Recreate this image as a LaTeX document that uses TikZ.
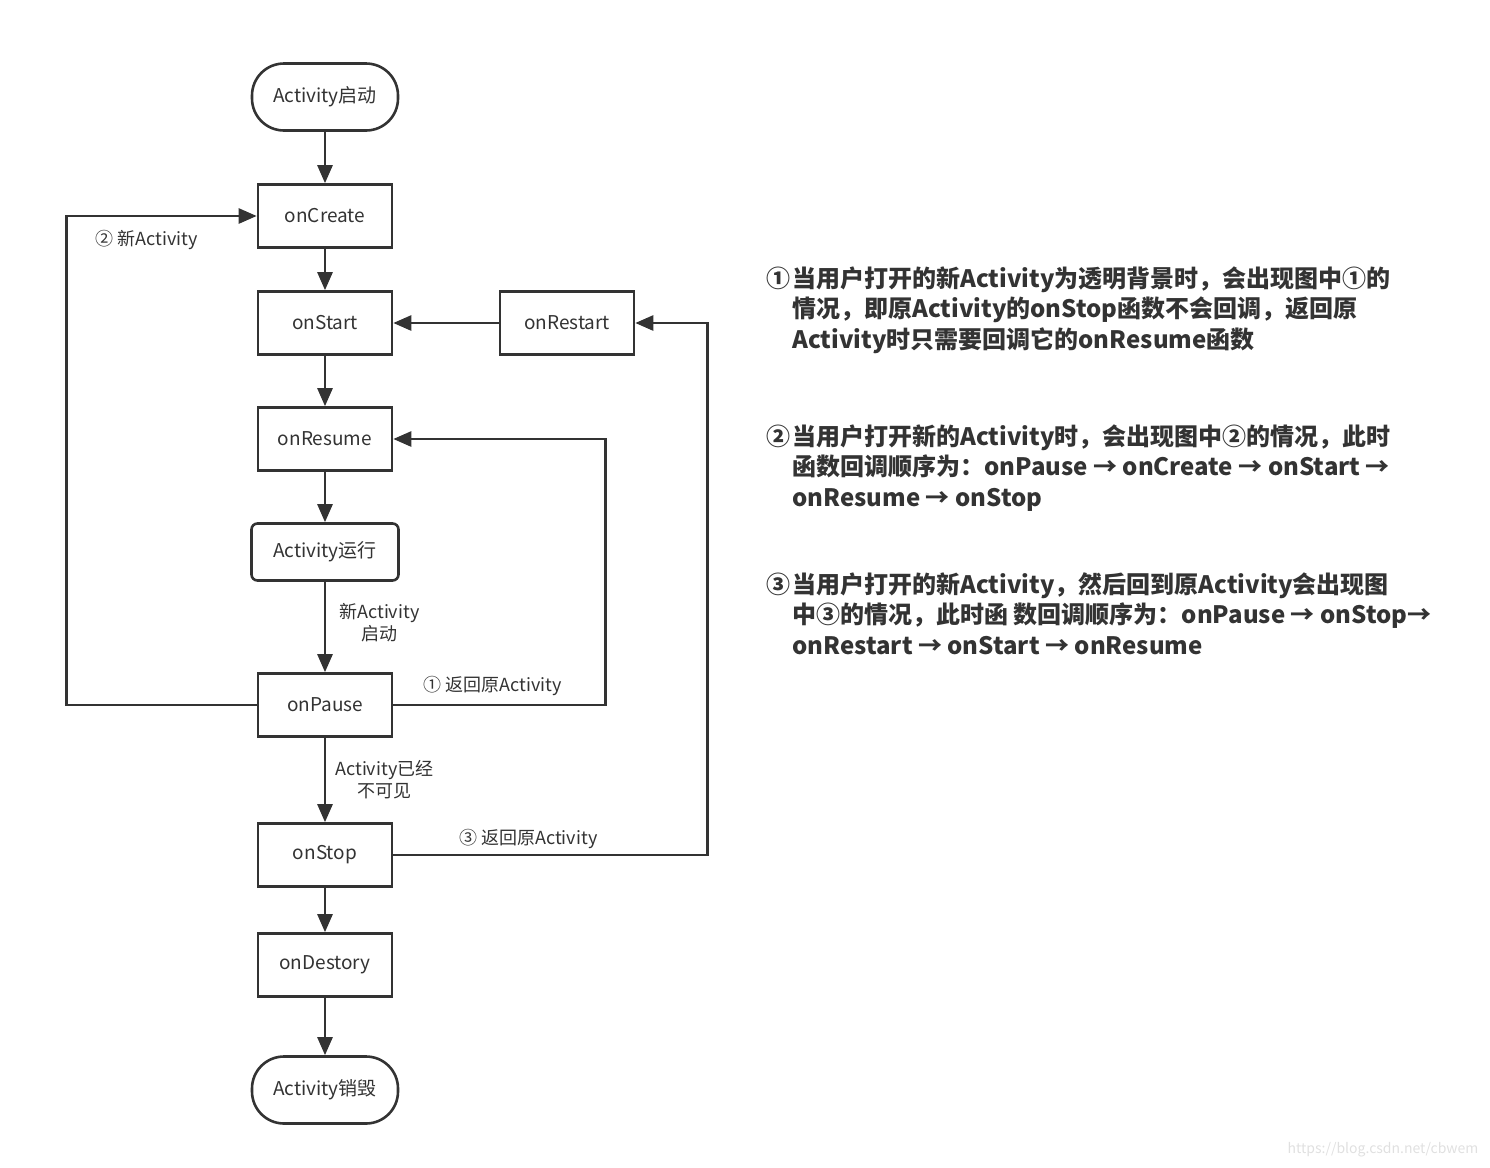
\documentclass[tikz,border=0pt]{standalone}
\usepackage{fontspec}
\setmainfont{Noto Sans CJK SC}
\usepackage{xcolor}
\usetikzlibrary{positioning, arrows.meta}
\definecolor{linegray}{HTML}{333333}
\tikzset{
    box/.style={draw=linegray, line width=1.3pt, minimum width=67pt, minimum height=31.5pt,
        inner sep=0pt, text=linegray, font=\fontsize{9.5}{11}\selectfont},
    terminal/.style={box, minimum width=73pt, minimum height=33.5pt, rounded corners=16pt},
    runbox/.style={box, minimum width=73.5pt, minimum height=28.5pt, rounded corners=3pt},
    flow/.style={draw=linegray, line width=1.3pt, -{Triangle[length=9pt,width=7.5pt]}},
    lbl/.style={font=\fontsize{9}{11}\selectfont, text=linegray, align=center, inner sep=0pt},
    note/.style={font=\bfseries\fontsize{12}{15.25}\selectfont, text=linegray, align=left,
        inner sep=0pt, anchor=base west}
}

\begin{document}
\begin{tikzpicture}[x=0.5pt, y=-0.5pt]
    \useasboundingbox (0,0) rectangle (1490,1168);

    % main column
    \node[terminal] (launch) at (325,97) {Activity启动};
    \node[box, below=25.7pt of launch] (create) {onCreate};
    \node[box, below=20.7pt of create] (start) {onStart};
    \node[box, right=52.7pt of start] (restart) {onRestart};
    \node[box, below=25.2pt of start] (resume) {onResume};
    \node[runbox, below=25.2pt of resume] (running) {Activity运行};
    \node[box, below=45.2pt of running] (pause) {onPause};
    \node[box, below=42.2pt of pause] (stop) {onStop};
    \node[box, below=22.2pt of stop] (destroy) {onDestory};
    \node[terminal, below=28.7pt of destroy] (finish) {Activity销毁};

    \draw[flow] (launch) -- (create);
    \draw[flow] (create) -- (start);
    \draw[flow] (start) -- (resume);
    \draw[flow] (resume) -- (running);
    \draw[flow] (running) -- node[lbl, right=6.5pt, yshift=2pt] {新Activity\\启动} (pause);
    \draw[flow] (pause) -- node[lbl, right=4.5pt] {Activity已经\\不可见} (stop);
    \draw[flow] (stop) -- (destroy);
    \draw[flow] (destroy) -- (finish);
    \draw[flow] (restart) -- (start);

    % loops back
    \draw[flow] (pause.west) -- ++(-190,0) |- node[lbl, pos=0.71, below=6.5pt] {② 新Activity} (create.west);
    \draw[flow] (pause.east) -- node[lbl, pos=0.47, above=4pt] {① 返回原Activity} ++(212,0) |- (resume.east);
    \draw[flow] (stop.east) -- node[lbl, pos=0.43, above=2.5pt] {③ 返回原Activity} ++(314,0) |- (restart.east);

    % notes
    \node[note] (num1) at (766,287) {①};
    \node[note] (note1) at (792,348) {当用户打开的新Activity为透明背景时，会出现图中①的\\情况，即原Activity的onStop函数不会回调，返回原\\Activity时只需要回调它的onResume函数};
    \node[note] (num2) at (766,445) {②};
    \node[note] (note2) at (792,506) {当用户打开新的Activity时，会出现图中②的情况，此时\\函数回调顺序为：onPause → onCreate → onStart →\\onResume → onStop};
    \node[note] (num3) at (766,593) {③};
    \node[note] (note3) at (792,654) {当用户打开的新Activity，然后回到原Activity会出现图\\中③的情况，此时函 数回调顺序为：onPause → onStop→\\onRestart → onStart → onResume};

    \node[font=\fontsize{7}{8}\selectfont, text=black!12] (mark) at (1383,1150) {https://blog.csdn.net/cbwem};
\end{tikzpicture}
\end{document}
